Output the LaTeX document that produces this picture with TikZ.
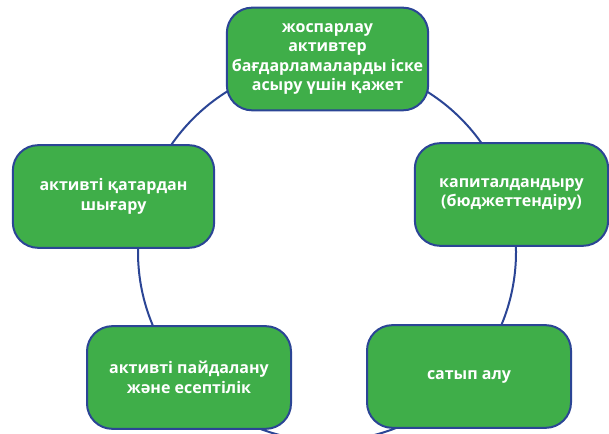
\documentclass[tikz,border=0pt]{standalone}
\usepackage{fontspec}
\setmainfont{Open Sans}
\definecolor{boxgreen}{HTML}{3FAE49}
\definecolor{ringblue}{HTML}{2B4595}

\begin{document}
\begin{tikzpicture}[
  x=0.75pt,y=-0.75pt,
  stage/.style={rectangle,rounded corners=19pt,minimum width=151pt,
    minimum height=77pt,draw=ringblue,line width=1.5pt,fill=boxgreen,
    text=white,font=\fontsize{12}{14.6}\selectfont\bfseries,align=center,
    inner sep=1pt},
  ring/.style={draw=ringblue,line width=1.5pt}
]
  \useasboundingbox (0,0) rectangle (609,434);

  % the cycle behind the stages
  \coordinate (hub) at (327,252);
  \draw[ring] (hub) circle (189);

  \node[stage] (plan) at (327.5,59) {жоспарлау\\активтер\\бағдарламаларды іске\\асыру үшін қажет};
  \node[stage,minimum width=145pt] (capital) at (511.5,194.5) {капиталдандыру\\(бюджеттендіру)};
  \node[stage,minimum width=153pt] (buy) at (469,376.5) {сатып алу};
  \node[stage,minimum width=153pt] (use) at (189,377.5) {активті пайдалану\\және есептілік};
  \node[stage] (retire) at (113.5,196.5) {активті қатардан\\шығару};
\end{tikzpicture}
\end{document}
